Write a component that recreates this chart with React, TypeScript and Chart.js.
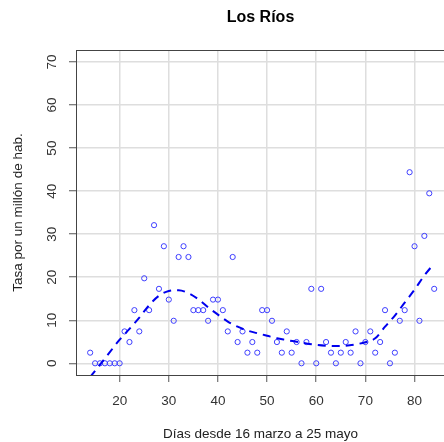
import { useEffect, useRef } from "react";
import { Chart, registerables } from "chart.js";

Chart.register(...registerables);

const TITLE = "Los Ríos";
const X_LABEL = "Días desde 16 marzo a 25 mayo";
const Y_LABEL = "Tasa por un millón de hab.";

const DAYS = [
  14, 15, 16, 17, 18, 19, 20, 21, 22, 23, 24, 25, 26, 27, 28, 29, 30, 31, 32, 33,
  34, 35, 36, 37, 38, 39, 40, 41, 42, 43, 44, 45, 46, 47, 48, 49, 50, 51, 52, 53,
  54, 55, 56, 57, 58, 59, 60, 61, 62, 63, 64, 65, 66, 67, 68, 69, 70, 71, 72, 73,
  74, 75, 76, 77, 78, 79, 80, 81, 82, 83, 84,
];
const RATES = [
  2.47, 0, 0, 0, 0, 0, 0, 7.41, 4.94, 12.35, 7.41, 19.75, 12.35, 32.1, 17.3, 27.2, 14.8, 9.88, 24.7, 27.2,
  24.7, 12.35, 12.35, 12.35, 9.88, 14.8, 14.8, 12.35, 7.41, 24.7, 4.94, 7.41, 2.47, 4.94, 2.47, 12.35, 12.35, 9.88, 4.94, 2.47,
  7.41, 2.47, 4.94, 0, 4.94, 17.3, 0, 17.3, 4.94, 2.47, 0, 2.47, 4.94, 2.47, 7.41, 0, 4.94, 7.41, 2.47, 4.94,
  12.35, 0, 2.47, 9.88, 12.35, 44.4, 27.2, 9.88, 29.6, 39.5, 17.3,
];

const FIT_DAYS = [
  14, 16, 18, 20, 22, 24, 26, 28, 30, 32, 34, 36, 38, 40, 42, 44, 46, 48,
  50, 52, 54, 56, 58, 60, 62, 64, 66, 68, 70, 72, 74, 76, 78, 80, 82, 84,
];
const FIT_RATES = [
  -3.2, -0.3, 2.6, 5.5, 8.0, 10.6, 13.5, 15.7, 16.8, 17.0, 16.3, 14.9, 13.0, 11.3, 9.7, 8.5, 7.6, 7.0,
  6.4, 5.8, 5.4, 5.0, 4.6, 4.3, 4.1, 4.0, 4.1, 4.4, 4.9, 5.8, 8.5, 11.1, 14.1, 17.1, 20.4, 23.2,
];

const X_TICKS = [20, 30, 40, 50, 60, 70, 80];
const Y_TICKS = [0, 10, 20, 30, 40, 50, 60, 70];

const FAMILY = "'Liberation Sans', Arial, Helvetica, sans-serif";

const framePlugin = {
  id: "frame",
  afterDatasetsDraw(chart: any) {
    const { ctx, chartArea: a } = chart;
    ctx.save();
    ctx.strokeStyle = "#444";
    ctx.lineWidth = 1;
    ctx.strokeRect(
      Math.round(a.left) + 0.5,
      Math.round(a.top) + 0.5,
      Math.round(a.right - a.left),
      Math.round(a.bottom - a.top)
    );
    ctx.fillStyle = "#000";
    ctx.font = `bold 16px ${FAMILY}`;
    ctx.textAlign = "center";
    ctx.textBaseline = "middle";
    ctx.fillText(TITLE, (a.left + a.right) / 2, 18);
    ctx.restore();
  },
};

export default function App() {
  const ref = useRef<HTMLCanvasElement | null>(null);

  useEffect(() => {
    if (!ref.current) return;
    const chart = new Chart(ref.current, {
      type: "scatter",
      data: {
        datasets: [
          {
            label: "Tasa",
            data: DAYS.map((d, i) => ({ x: d, y: RATES[i] })),
            showLine: false,
            pointStyle: "circle",
            pointRadius: 2.6,
            pointBorderWidth: 1,
            pointBackgroundColor: "rgba(0,0,0,0)",
            pointBorderColor: "#3f3fff",
            order: 2,
          },
          {
            label: "Ajuste",
            data: FIT_DAYS.map((d, i) => ({ x: d, y: FIT_RATES[i] })),
            showLine: true,
            pointRadius: 0,
            borderColor: "#0000ee",
            borderWidth: 2,
            borderDash: [8, 6],
            cubicInterpolationMode: "monotone",
            fill: false,
            order: 1,
          },
        ],
      },
      options: {
        animation: false,
        responsive: false,
        layout: { padding: { top: 50, right: 2, left: 0, bottom: 0 } },
        plugins: {
          legend: { display: false },
          title: { display: false },
          tooltip: { enabled: false },
        },
        scales: {
          x: {
            type: "linear",
            min: 11.12,
            max: 86.2,
            afterBuildTicks: (s: any) => {
              s.ticks = X_TICKS.map((v) => ({ value: v }));
            },
            afterFit: (s: any) => {
              s.height = 67;
            },
            grid: {
              color: "#dedede",
              lineWidth: 1.5,
              tickColor: "#555",
              tickWidth: 1,
              tickLength: 7,
            },
            border: { color: "#333", width: 1 },
            ticks: {
              color: "#333",
              font: { size: 13.5, family: FAMILY },
              padding: 11,
              maxRotation: 0,
              autoSkip: false,
            },
            title: {
              display: true,
              text: X_LABEL,
              color: "#222",
              font: { size: 13.5, family: FAMILY },
              padding: { top: 0, bottom: 0 },
            },
          },
          y: {
            type: "linear",
            min: -2.72,
            max: 72.8,
            afterBuildTicks: (s: any) => {
              s.ticks = Y_TICKS.map((v) => ({ value: v }));
            },
            afterFit: (s: any) => {
              s.width = 76;
            },
            grid: {
              color: "#dedede",
              lineWidth: 1.5,
              tickColor: "#555",
              tickWidth: 1,
              tickLength: 7,
            },
            border: { color: "#333", width: 1 },
            ticks: {
              color: "#333",
              font: { size: 13.5, family: FAMILY },
              padding: 9,
              minRotation: 90,
              maxRotation: 90,
              crossAlign: "center",
              autoSkip: false,
            },
            title: {
              display: true,
              text: Y_LABEL,
              color: "#222",
              font: { size: 13.5, family: FAMILY },
              padding: { top: 10, bottom: 0 },
            },
          },
        },
      },
      plugins: [framePlugin],
    } as any);
    return () => chart.destroy();
  }, []);

  return (
    <div
      style={{
        position: "absolute",
        left: 0,
        top: 0,
        width: 444,
        height: 442,
        overflow: "hidden",
        background: "#fff",
      }}
    >
      <canvas ref={ref} width={450} height={442} style={{ display: "block" }} />
    </div>
  );
}
